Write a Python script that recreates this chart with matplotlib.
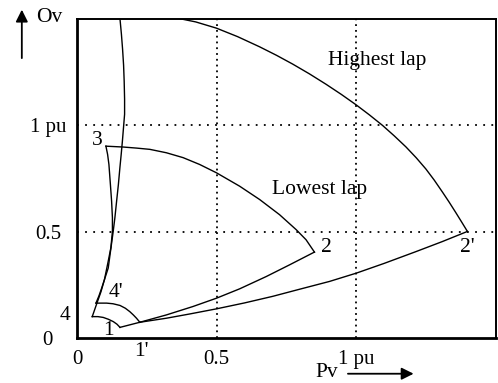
import matplotlib
matplotlib.use("Agg")
import matplotlib.pyplot as plt

plt.rcParams['font.family'] = ['Liberation Serif', 'DejaVu Serif']

# curve points (Pv, Ov in pu)
arc_41_x = [0.0546, 0.075, 0.094, 0.1125, 0.130, 0.143, 0.154]
arc_41_y = [0.1005, 0.1005, 0.0967, 0.088, 0.077, 0.065, 0.050]

arc_41p_x = [0.068, 0.106, 0.129, 0.154, 0.173, 0.189, 0.202, 0.213, 0.225]
arc_41p_y = [0.164, 0.164, 0.161, 0.153, 0.140, 0.124, 0.108, 0.093, 0.074]

seg_11p_x = [0.154, 0.225]
seg_11p_y = [0.050, 0.074]

low_12_x = [0.225, 0.320, 0.415, 0.499, 0.582, 0.6775, 0.761, 0.850]
low_12_y = [0.074, 0.1085, 0.148, 0.187, 0.231, 0.289, 0.344, 0.404]

high_12_x = [0.225, 0.320, 0.4036, 0.499, 0.600, 0.701, 0.796, 0.904, 1.000,
             1.100, 1.213, 1.307, 1.3975]
high_12_y = [0.074, 0.093, 0.113, 0.137, 0.165, 0.196, 0.229, 0.266, 0.305,
             0.351, 0.406, 0.453, 0.501]

low_23_x = [0.850, 0.820, 0.785, 0.725, 0.654, 0.582, 0.499, 0.439, 0.380,
            0.320, 0.261, 0.213, 0.165, 0.1036]
low_23_y = [0.404, 0.462, 0.509, 0.580, 0.651, 0.714, 0.777, 0.816, 0.848,
            0.871, 0.887, 0.893, 0.898, 0.902]

low_34_x = [0.1036, 0.1096, 0.1143, 0.1196, 0.1239, 0.1268, 0.1268, 0.1214,
            0.1107, 0.0982, 0.0857, 0.0714, 0.0546]
low_34_y = [0.902, 0.863, 0.816, 0.722, 0.643, 0.566, 0.501, 0.425,
            0.354, 0.274, 0.217, 0.164, 0.1005]

high_23_x = [1.3975, 1.3768, 1.3561, 1.3321, 1.3082, 1.2786, 1.2489, 1.2143,
             1.1775, 1.1357, 1.0939, 1.0464, 0.9989, 0.9464, 0.8918, 0.8321,
             0.7725, 0.7143, 0.6536, 0.575, 0.4989, 0.425, 0.3561, 0.2964, 0.225]
high_23_y = [0.5014, 0.5458, 0.5896, 0.6392, 0.6863, 0.7429, 0.7948, 0.8476,
             0.8986, 0.9505, 0.9995, 1.0495, 1.0967, 1.1453, 1.1929, 1.242,
             1.2877, 1.3292, 1.3693, 1.417, 1.4571, 1.4863, 1.5047, 1.5198, 1.5354]

high_34_x = [0.1518, 0.1536, 0.159, 0.1632, 0.1668, 0.1689, 0.1704, 0.1704,
             0.166, 0.1625, 0.1582, 0.1536, 0.1482, 0.1418, 0.1357, 0.1296,
             0.1207, 0.1118, 0.0982, 0.0882, 0.0786, 0.0679]
high_34_y = [1.547, 1.505, 1.429, 1.358, 1.283, 1.208, 1.123, 1.052,
             0.981, 0.925, 0.863, 0.801, 0.722, 0.643, 0.566, 0.501,
             0.415, 0.329, 0.274, 0.234, 0.198, 0.164]

grid_vals = [0.5, 1.0]
x_ticks = [0, 0.5, 1.0]
x_tick_labels = ['0', '0.5', '1 pu']
y_ticks = [0, 0.5, 1.0]
y_tick_labels = ['0', '0.5', '1 pu']

fig = plt.figure(figsize=(4.98, 3.83), dpi=100)
ax = fig.add_axes([0.1546, 0.1175, 0.8414, 0.8329])
ax.set_xlim(0, 1.5)
ax.set_ylim(0, 1.5)

for v in grid_vals:
    ax.axvline(v, color='black', linewidth=1.3, linestyle=(0, (1, 2.2)))
    ax.axhline(v, color='black', linewidth=1.3, linestyle=(0, (1, 3.5)))

curves = [
    (arc_41_x, arc_41_y), (arc_41p_x, arc_41p_y), (seg_11p_x, seg_11p_y),
    (low_12_x, low_12_y), (high_12_x, high_12_y), (low_23_x, low_23_y),
    (low_34_x, low_34_y), (high_23_x, high_23_y), (high_34_x, high_34_y),
]
for cx, cy in curves:
    ax.plot(cx, cy, color='black', linewidth=1.0, solid_joinstyle='miter')

for s in ax.spines.values():
    s.set_linewidth(1.4)
ax.spines['left'].set_linewidth(2.0)
ax.spines['bottom'].set_linewidth(2.0)

ax.set_xticks(x_ticks, x_tick_labels)
ax.set_yticks(y_ticks, y_tick_labels)
ax.tick_params(length=0, labelsize=15)
ax.tick_params(axis='x', pad=9)
ax.tick_params(axis='y', pad=21)
plt.setp(ax.get_yticklabels(), ha='center')

fs = 15.5
ax.text(1.075, 1.303, 'Highest lap', fontsize=fs, ha='center', va='center')
ax.text(0.868, 0.698, 'Lowest lap', fontsize=fs, ha='center', va='center')
ax.text(0.071, 0.929, '3', fontsize=fs, ha='center', va='center')
ax.text(0.893, 0.425, '2', fontsize=fs, ha='center', va='center')
ax.text(1.396, 0.425, "2'", fontsize=fs, ha='center', va='center')
ax.text(0.139, 0.214, "4'", fontsize=fs, ha='center', va='center')
ax.text(-0.043, 0.108, '4', fontsize=fs, ha='center', va='center', clip_on=False)
ax.text(0.111, 0.034, '1', fontsize=fs, ha='center', va='center')
ax.text(0.231, -0.065, "1'", fontsize=fs, ha='center', va='center', clip_on=False)

ax.text(0.893, -0.163, 'Pv', fontsize=fs, ha='center', va='center', clip_on=False)
ax.annotate('', xy=(1.215, -0.168), xytext=(0.96, -0.168), xycoords='data',
            arrowprops=dict(arrowstyle='-|>', color='black', lw=1.3,
                            mutation_scale=18), annotation_clip=False)
ax.text(-0.1, 1.505, 'Ov', fontsize=fs, ha='center', va='center', clip_on=False)
ax.annotate('', xy=(-0.1975, 1.557), xytext=(-0.1975, 1.303), xycoords='data',
            arrowprops=dict(arrowstyle='-|>', color='black', lw=1.3,
                            mutation_scale=18), annotation_clip=False)

fig.savefig('out.png', dpi=100)
